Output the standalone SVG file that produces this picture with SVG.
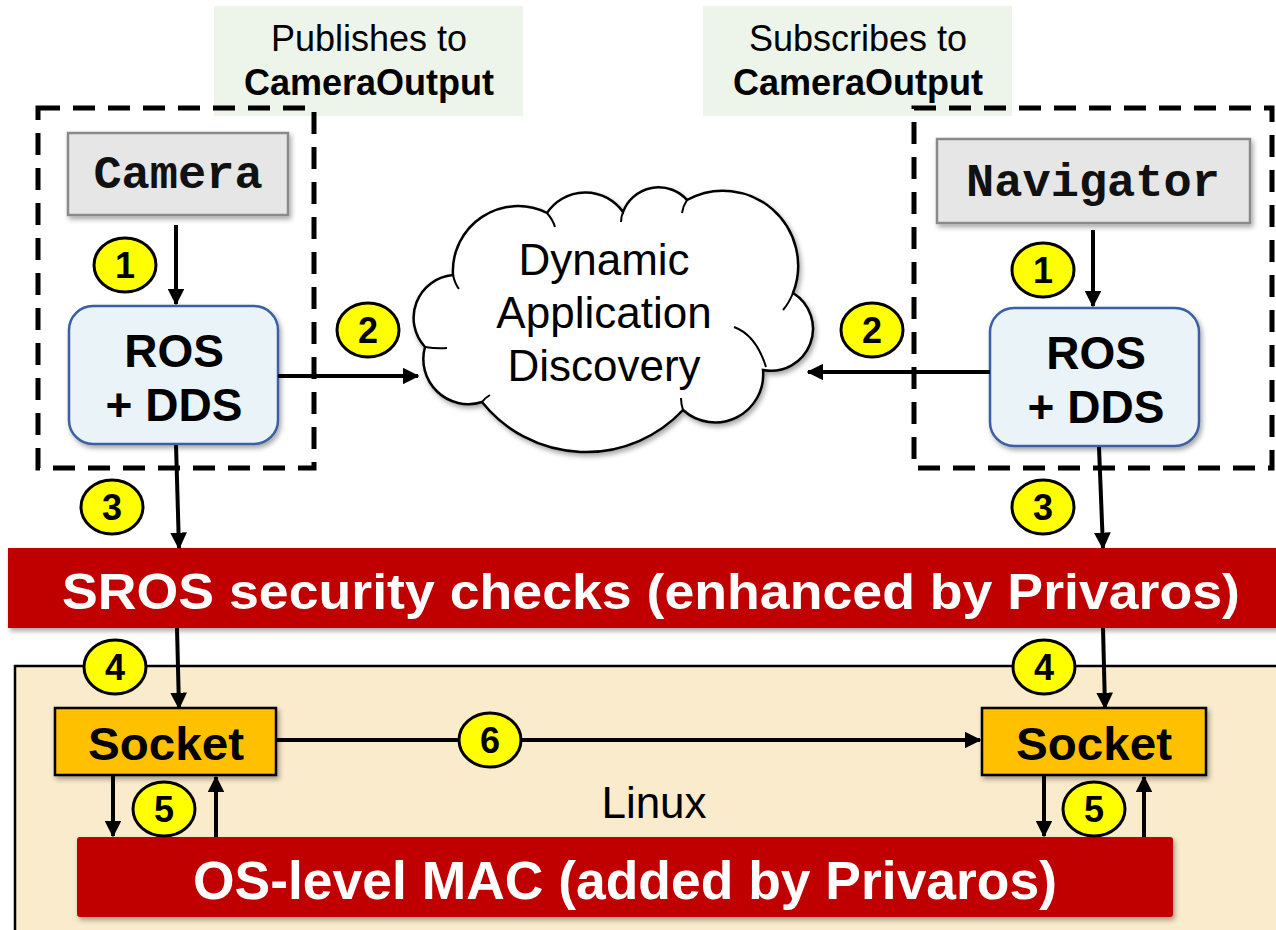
<svg xmlns="http://www.w3.org/2000/svg" width="1276" height="930" viewBox="0 0 1276 930">
<defs>
<filter id="sh" x="-10%" y="-10%" width="130%" height="140%"><feDropShadow dx="2" dy="3" stdDeviation="2.5" flood-color="#000" flood-opacity="0.35"/></filter>
<marker id="ah" viewBox="0 0 12 12" refX="11" refY="6" markerWidth="4.2" markerHeight="4.2" orient="auto" markerUnits="strokeWidth"><path d="M0,0 L12,6 L0,12 Z" fill="#000"/></marker>
<style>
.lbl{fill:#edf5ea}
.lt{font-family:"Liberation Sans",Arial,sans-serif;font-size:36px;fill:#000;text-anchor:middle}
.dash{fill:none;stroke:#000;stroke-width:5;stroke-dasharray:22 13}
.app{fill:#e6e6e6;stroke:#8a8a8a;stroke-width:2.5}
.mono{font-family:"Liberation Mono","Courier New",monospace;font-weight:bold;font-size:47px;text-anchor:middle;fill:#111}
.ros{fill:#eaf3f7;stroke:#3b5fa3;stroke-width:2.5}
.big{font-family:"Liberation Sans",Arial,sans-serif;font-weight:bold;font-size:46px;text-anchor:middle;fill:#000}
.bar{fill:#c00000}
.wt{font-family:"Liberation Sans",Arial,sans-serif;font-weight:bold;fill:#fff;text-anchor:middle}
.sock{fill:#ffc000;stroke:#000;stroke-width:2.5}
.num{fill:#ffff00;stroke:#000;stroke-width:3}
.nt{font-family:"Liberation Sans",Arial,sans-serif;font-weight:bold;font-size:36px;text-anchor:middle;fill:#000}
.ln{fill:none;stroke:#000;stroke-width:4;marker-end:url(#ah)}
.cl{fill:#fff;stroke:#000;stroke-width:2.5}
.ct{font-family:"Liberation Sans",Arial,sans-serif;font-size:44px;text-anchor:middle;fill:#000}
</style>
</defs>
<rect width="1276" height="930" fill="#fff"/>

<g id="linux">
<rect x="15" y="666" width="1270" height="270" fill="#f9ebcb" stroke="#000" stroke-width="2.5"/>
<text x="654" y="818" class="ct" font-size="46">Linux</text>
</g>

<g id="label-publish">
<rect class="lbl" x="214" y="6" width="309" height="110"/>
<text class="lt" x="369" y="51">Publishes to</text>
<text class="lt" x="369" y="95" font-weight="bold">CameraOutput</text>
</g>
<g id="label-subscribe">
<rect class="lbl" x="703" y="6" width="309" height="110"/>
<text class="lt" x="858" y="51">Subscribes to</text>
<text class="lt" x="858" y="95" font-weight="bold">CameraOutput</text>
</g>

<g id="camera-group">
<rect class="dash" x="38" y="108" width="276" height="360"/>
</g>
<g id="navigator-group">
<rect class="dash" x="914" y="108" width="358" height="360"/>
</g>

<g id="camera">
<rect class="app" x="68" y="133" width="220" height="82" filter="url(#sh)"/>
<text class="mono" x="178" y="188">Camera</text>
</g>
<g id="navigator">
<rect class="app" x="937" y="139" width="313" height="84" filter="url(#sh)"/>
<text class="mono" x="1093" y="196">Navigator</text>
</g>

<g id="ros-left">
<rect class="ros" x="69" y="306" width="209" height="138" rx="24" filter="url(#sh)"/>
<text class="big" x="174" y="367">ROS</text>
<text class="big" x="174" y="421">+ DDS</text>
</g>
<g id="ros-right">
<rect class="ros" x="990" y="308" width="209" height="138" rx="24" filter="url(#sh)"/>
<text class="big" x="1096" y="369">ROS</text>
<text class="big" x="1096" y="423">+ DDS</text>
</g>

<g id="cloud">
<path class="cl" filter="url(#sh)" d="M453,275 A65,65 0 0 1 547,213 A46,46 0 0 1 623,212 A38,38 0 0 1 687,200 A75,75 0 0 1 793,293 A42,42 0 0 1 763,370 A48,48 0 0 1 683,410 A133,133 0 0 1 482,402 A45,45 0 0 1 425,347 A43,43 0 0 1 453,275 Z"/>
<path fill="none" stroke="#000" stroke-width="2" d="M453,275 q2,9 6,14 M547,213 q6,7 8,14 M623,212 q-2,5 -2,10 M687,200 q-4,6 -5,13 M793,293 q-4,10 -10,17 M734,327 q22,8 32,40 M683,410 q-2,-6 -2,-12 M482,402 q3,-4 8,-7 M425,347 q12,2 22,1"/>
<text class="ct" x="604" y="275">Dynamic</text>
<text class="ct" x="604" y="328">Application</text>
<text class="ct" x="604" y="381">Discovery</text>
</g>

<g id="sros">
<rect class="bar" x="8" y="548" width="1275" height="80" filter="url(#sh)"/>
<text class="wt" x="651" y="609" font-size="50" textLength="1178" lengthAdjust="spacingAndGlyphs">SROS security checks (enhanced by Privaros)</text>
</g>

<g id="socket-left">
<rect class="sock" x="55" y="708" width="221" height="67" filter="url(#sh)"/>
<text class="big" x="166" y="760" textLength="156" lengthAdjust="spacingAndGlyphs">Socket</text>
</g>
<g id="socket-right">
<rect class="sock" x="982" y="708" width="224" height="67" filter="url(#sh)"/>
<text class="big" x="1094" y="760" textLength="156" lengthAdjust="spacingAndGlyphs">Socket</text>
</g>

<g id="mac">
<rect class="bar" x="77" y="837" width="1096" height="80" rx="3" filter="url(#sh)"/>
<text class="wt" x="625" y="899" font-size="54" textLength="864" lengthAdjust="spacingAndGlyphs">OS-level MAC (added by Privaros)</text>
</g>

<g id="connectors">
<line class="ln" x1="176" y1="225" x2="176" y2="304"/>
<line class="ln" x1="1093" y1="230" x2="1093" y2="306"/>
<line class="ln" x1="278" y1="376" x2="418" y2="376"/>
<line class="ln" x1="990" y1="372" x2="808" y2="372"/>
<line class="ln" x1="176" y1="445" x2="179" y2="548"/>
<line class="ln" x1="1099" y1="447" x2="1103" y2="548"/>
<line class="ln" x1="177" y1="628" x2="179" y2="708"/>
<line class="ln" x1="1103" y1="628" x2="1105" y2="708"/>
<line class="ln" x1="276" y1="740" x2="980" y2="740"/>
<line class="ln" x1="113" y1="775" x2="113" y2="836"/>
<line class="ln" x1="216" y1="837" x2="216" y2="777"/>
<line class="ln" x1="1044" y1="775" x2="1044" y2="836"/>
<line class="ln" x1="1144" y1="837" x2="1144" y2="777"/>
</g>

<g id="step-badges">
<g><ellipse class="num" cx="125" cy="265" rx="31" ry="27"/><text class="nt" x="125" y="278">1</text></g>
<g><ellipse class="num" cx="1043" cy="270" rx="31" ry="27"/><text class="nt" x="1043" y="283">1</text></g>
<g><ellipse class="num" cx="368" cy="330" rx="31" ry="27"/><text class="nt" x="368" y="343">2</text></g>
<g><ellipse class="num" cx="872" cy="330" rx="31" ry="27"/><text class="nt" x="872" y="343">2</text></g>
<g><ellipse class="num" cx="112" cy="507" rx="31" ry="27"/><text class="nt" x="112" y="520">3</text></g>
<g><ellipse class="num" cx="1043" cy="507" rx="31" ry="27"/><text class="nt" x="1043" y="520">3</text></g>
<g><ellipse class="num" cx="115" cy="667" rx="31" ry="27"/><text class="nt" x="115" y="680">4</text></g>
<g><ellipse class="num" cx="1044" cy="667" rx="31" ry="27"/><text class="nt" x="1044" y="680">4</text></g>
<g><ellipse class="num" cx="164" cy="809" rx="31" ry="27"/><text class="nt" x="164" y="822">5</text></g>
<g><ellipse class="num" cx="1094" cy="809" rx="31" ry="27"/><text class="nt" x="1094" y="822">5</text></g>
<g><ellipse class="num" cx="490" cy="740" rx="31" ry="27"/><text class="nt" x="490" y="753">6</text></g>
</g>
</svg>
